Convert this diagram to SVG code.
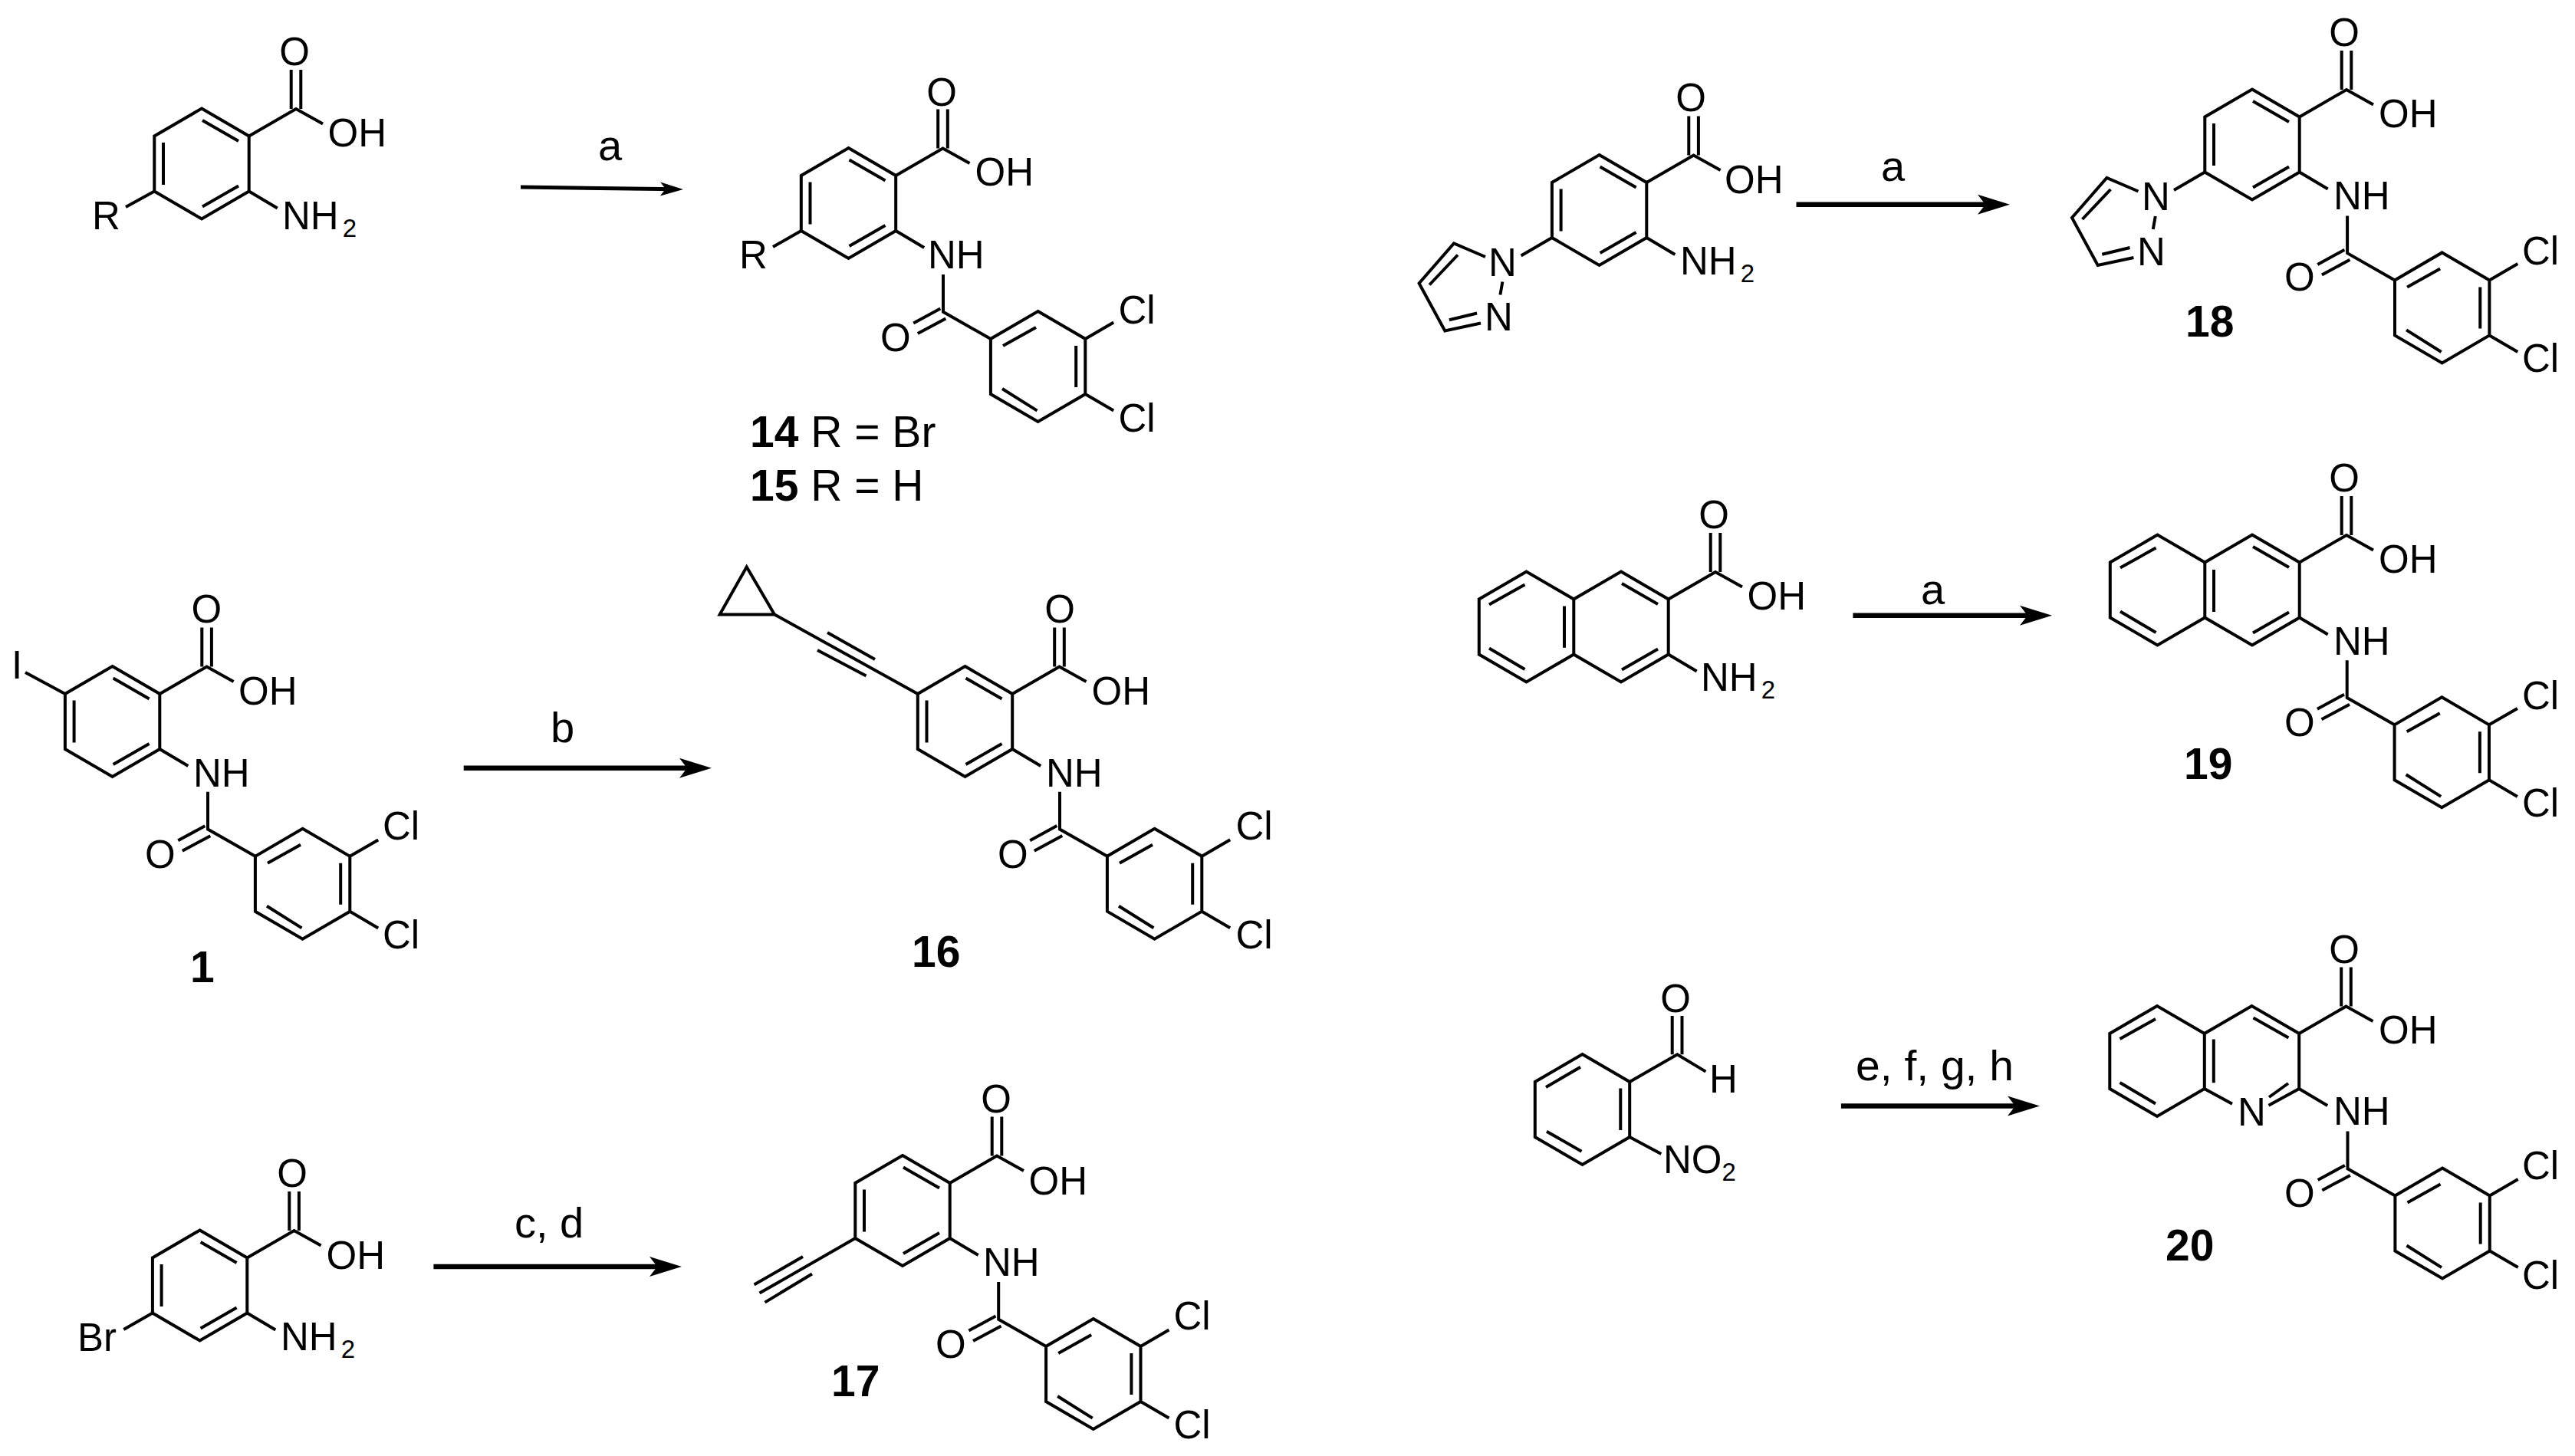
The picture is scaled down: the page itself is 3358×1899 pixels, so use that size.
<svg xmlns="http://www.w3.org/2000/svg" width="3358" height="1899" viewBox="0 0 3358 1899">
<style>
.b{fill:none;stroke:#000;stroke-width:4;stroke-linejoin:miter}
text{font-family:"Liberation Sans",Arial,sans-serif;fill:#000;font-size:51px}
.m{text-anchor:middle}
.s{font-size:33px}
.v{font-size:57px}
.n{font-size:57px;font-weight:bold}
.l{font-size:56px}
.ar{fill:none;stroke:#000;stroke-width:6.5}
.ar1{fill:none;stroke:#000;stroke-width:5}
</style>
<defs>
<marker id="ah" markerUnits="userSpaceOnUse" viewBox="0 0 42 28" markerWidth="42" markerHeight="28" refX="27" refY="14" orient="auto"><path d="M0,1 L42,14 L0,27 L10,14Z" fill="#000"/></marker>
<marker id="ah1" markerUnits="userSpaceOnUse" viewBox="0 0 30 20" markerWidth="30" markerHeight="20" refX="20" refY="10" orient="auto"><path d="M0,1 L30,10 L0,19 L7,10Z" fill="#000"/></marker>
<path id="ring" class="b" d="M0,-72 L61.7,-36 V36 L0,72 L-61.7,36 V-36Z M1,-56.5 L48,-29.5 M-50,-27.5 V27.5 M1,56 L48,29"/>
<path id="ring2" class="b" d="M0,-72 L61.7,-36 V36 L0,72 L-61.7,36 V-36Z M1,-56.5 L48,-29.5 M1,56 L48,29"/>
<path id="ring3" class="b" d="M0,-72 L61.7,-36 V36 L0,72 L-61.7,36 V-36Z M-47.5,-29 L-2.5,-55.3 M49.8,-27.5 V27 M-46.5,28.7 L-1,54.7"/>
<path id="acid" class="b" d="M61.7,-36 L123,-71.5 L158,-52 M116.7,-71.5 V-122.5 M129.3,-71.5 V-122.5 M61.7,36 L98.7,58"/>
<path id="lring" class="b" d="M-61.7,-36 L-123.5,-72 L-185.2,-36 V36 L-123.5,72 L-61.7,36 M-172,-29 L-125.5,-55 M-172,28 L-125.5,55.5"/>
<path id="tail" class="b" d="M123.5,93 V141.8 L185.4,177 M84.7,156.5 L119.8,137.4 M90.3,170 L126.8,150.4 M247.1,141 L308.8,177 V249 L247.1,285 L185.4,249 V177Z M201.5,186 L244.5,162 M296.7,186 V240 M200.5,242 L246,270.6 M308.8,177 L345.7,155.6 M308.8,249 L345.7,270.6"/>
<path id="pyr" class="b" d="M-61.7,36 L-102,59.5 M-148.6,61 L-189.6,43.4 L-235,95.5 L-201.3,157.5 L-154.6,147.5 M-195.7,143.2 L-159.5,134.5 M-221.5,97.5 L-184.6,58.5 M-126.2,93.5 L-129.2,110.5"/>
</defs>
<rect width="3358" height="1899" fill="#fff"/>

<g id="connectors">
<path class="ar1" d="M679,244 L881,246.8" marker-end="url(#ah1)"/>
<path class="ar" d="M604.7,1001.8 H913" marker-end="url(#ah)"/>
<path class="ar" d="M565.4,1651.9 H874" marker-end="url(#ah)"/>
<path class="ar" d="M2342.5,266.7 H2606" marker-end="url(#ah)"/>
<path class="ar" d="M2416.4,802.7 H2661" marker-end="url(#ah)"/>
<path class="ar" d="M2400.9,1442.6 H2645" marker-end="url(#ah)"/>
<text class="l" x="780" y="209">a</text>
<text class="l" x="718" y="968">b</text>
<text class="l" x="671" y="1614.4">c, d</text>
<text class="l" x="2453" y="235.5">a</text>
<text class="l" x="2505" y="787.5">a</text>
<text class="l" x="2420" y="1409.4" textLength="206" lengthAdjust="spacingAndGlyphs">e, f, g, h</text>
</g>

<g id="mol-amine-R">
<use href="#ring" x="263" y="213.5"/><use href="#acid" x="263" y="213.5"/>
<path class="b" d="M201.3,249.5 L164,270"/>
<text class="m" x="384" y="84.6">O</text><text x="427.5" y="191">OH</text><text x="120" y="299">R</text>
<text x="368" y="299">NH<tspan class="s" dx="5" dy="10">2</tspan></text>
</g>

<g id="mol-14-15">
<use href="#ring" x="1106.5" y="265"/><use href="#acid" x="1106.5" y="265"/><use href="#tail" x="1106.5" y="265"/>
<path class="b" d="M1044.8,301 L1008,322"/>
<text class="m" x="1228" y="138">O</text><text x="1271.5" y="241.5">OH</text><text x="964" y="350.4">R</text>
<text x="1210" y="350">NH</text><text x="1148" y="457.5">O</text>
<text x="1458.5" y="422">Cl</text><text x="1458.5" y="563">Cl</text>
<text class="v" x="978" y="583"><tspan class="n">14</tspan> R = Br</text>
<text class="v" x="978" y="652.6"><tspan class="n">15</tspan> R = H</text>
</g>

<g id="mol-1">
<use href="#ring" x="146.6" y="941"/><use href="#acid" x="146.6" y="941"/><use href="#tail" x="147.5" y="939.8"/>
<path class="b" d="M84.9,905 L33,877"/>
<text x="15" y="884.7">I</text>
<text class="m" x="269.4" y="812">O</text><text x="311" y="918.5">OH</text><text x="252" y="1025.6">NH</text>
<text x="189" y="1132">O</text><text x="499" y="1095.4">Cl</text><text x="499" y="1237.2">Cl</text>
<text class="n" x="248" y="1281">1</text>
</g>

<g id="mol-16">
<use href="#ring" x="1258.5" y="941"/><use href="#acid" x="1258.5" y="941"/><use href="#tail" x="1258.5" y="939.7"/>
<path class="b" d="M1196.8,905 L1010,801.4 M1010,801.4 L973.7,739.4 L938.6,801.4Z M1079,825 L1141,860 M1066,848 L1129.5,881.6"/>
<text class="m" x="1382" y="812">O</text><text x="1423.5" y="918.5">OH</text><text x="1364" y="1025.6">NH</text>
<text x="1301" y="1132">O</text><text x="1611.5" y="1095.4">Cl</text><text x="1611.5" y="1237">Cl</text>
<text class="n" x="1189" y="1261">16</text>
</g>

<g id="mol-bromo">
<use href="#ring" x="260.6" y="1676.5"/><use href="#acid" x="260.6" y="1676.5"/>
<path class="b" d="M198.9,1712.5 L161.3,1734"/>
<text class="m" x="381" y="1548.4">O</text><text x="425.5" y="1654.6">OH</text>
<text x="366" y="1760.5">NH<tspan class="s" dx="5" dy="10">2</tspan></text>
<text x="101" y="1761.5">Br</text>
</g>

<g id="mol-17">
<use href="#ring" x="1177" y="1579"/><use href="#acid" x="1177" y="1579"/><use href="#tail" x="1178.7" y="1579"/>
<path class="b" d="M1115.3,1615 L990.5,1686.6 M1047,1639 L983.5,1675.6 M1059,1661.5 L997.5,1698.6"/>
<text class="m" x="1299" y="1451">O</text><text x="1341.5" y="1557.8">OH</text><text x="1282" y="1663.6">NH</text>
<text x="1220" y="1770.6">O</text><text x="1530.5" y="1733.5">Cl</text><text x="1530.5" y="1876">Cl</text>
<text class="n" x="1084" y="1821">17</text>
</g>

<g id="mol-pyrazolyl-amine">
<use href="#ring" x="2085.6" y="274"/><use href="#acid" x="2085.6" y="274"/><use href="#pyr" x="2085.6" y="274"/>
<text class="m" x="2205" y="145">O</text><text x="2249" y="252.4">OH</text>
<text x="2191" y="357.8">NH<tspan class="s" dx="5" dy="10">2</tspan></text>
<text x="1941" y="360">N</text><text x="1936" y="430.6">N</text>
</g>

<g id="mol-18">
<use href="#ring" x="2937" y="188.5"/><use href="#acid" x="2937" y="188.5"/><use href="#pyr" x="2937" y="188.5"/><use href="#tail" x="2937.6" y="188.4"/>
<text class="m" x="3057" y="60">O</text><text x="3102" y="166">OH</text><text x="3043" y="273">NH</text>
<text x="2979" y="379.4">O</text><text x="3289" y="344.8">Cl</text><text x="3289" y="484.8">Cl</text>
<text x="2793" y="274">N</text><text x="2787" y="345.6">N</text>
<text class="n" x="2850" y="438.8">18</text>
</g>

<g id="mol-naphthyl-amine">
<use href="#ring2" x="2114" y="817.5"/><use href="#lring" x="2114" y="817.5"/><use href="#acid" x="2114" y="817.5"/>
<path class="b" d="M2040,790.6 V844.8"/>
<text class="m" x="2235" y="689">O</text><text x="2278.5" y="795">OH</text>
<text x="2218" y="901">NH<tspan class="s" dx="5" dy="10">2</tspan></text>
</g>

<g id="mol-19">
<use href="#ring2" x="2937" y="769.5"/><use href="#lring" x="2937" y="769.5"/><use href="#acid" x="2937" y="769.5"/><use href="#tail" x="2937.2" y="768.3"/>
<path class="b" d="M2887,743 V798"/>
<text class="m" x="3057" y="641">O</text><text x="3102" y="747.2">OH</text><text x="3043" y="853.5">NH</text>
<text x="2979" y="959.7">O</text><text x="3289" y="925">Cl</text><text x="3289" y="1065">Cl</text>
<text class="n" x="2848" y="1016">19</text>
</g>

<g id="mol-nitrobenzaldehyde">
<use href="#ring3" x="2063.5" y="1447"/>
<path class="b" d="M2125.2,1411 L2187.3,1375.2 L2224.4,1397.6 M2180.7,1375.2 V1325 M2193.5,1375.2 V1325 M2125.2,1483 L2166.3,1505"/>
<text class="m" x="2185" y="1319.6">O</text><text x="2229" y="1425.4">H</text>
<text x="2169" y="1530.3">NO<tspan class="s" dx="0" dy="10">2</tspan></text>
</g>

<g id="mol-20">
<use href="#lring" x="2936.5" y="1384"/><use href="#acid" x="2936.5" y="1384"/><use href="#tail" x="2938" y="1382.5"/>
<path class="b" d="M2911,1439.7 L2874.8,1420 V1348 L2936.5,1312 L2998.2,1348 V1420 L2958.5,1441.7 M2886.8,1355.6 V1412.3 M2938.5,1327.4 L2984.4,1353.5 M2959,1431 L2984,1413"/>
<text class="m" x="3057" y="1255.5">O</text><text x="3102" y="1361">OH</text><text x="3043" y="1467">NH</text>
<text x="2918" y="1468">N</text>
<text x="2979" y="1574">O</text><text x="3289" y="1537.6">Cl</text><text x="3289" y="1680.5">Cl</text>
<text class="n" x="2824" y="1643.5">20</text>
</g>
</svg>
